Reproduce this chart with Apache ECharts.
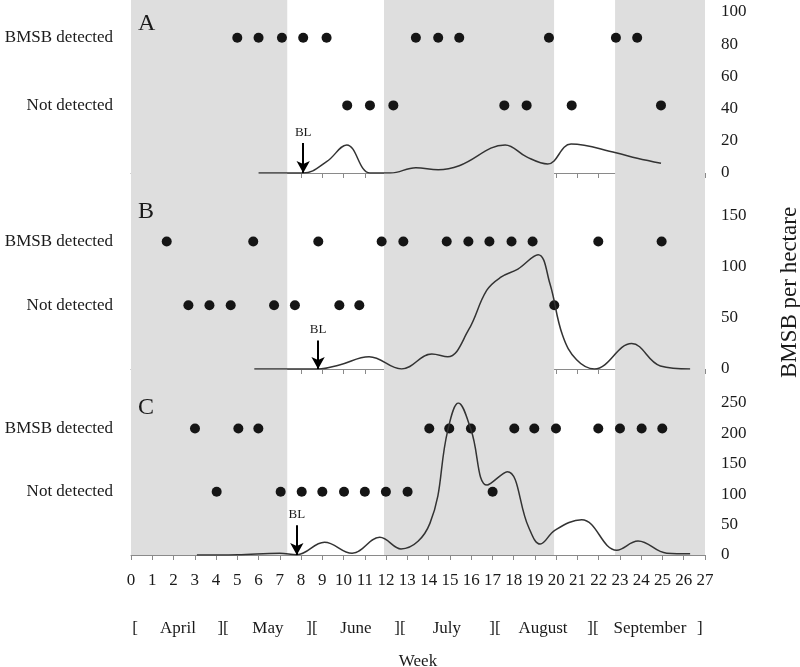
<!DOCTYPE html>
<html>
<head>
<meta charset="utf-8">
<style>html,body{margin:0;padding:0;background:#fff;}#chart{width:800px;height:667px;}</style>
<script src="https://cdn.jsdelivr.net/npm/echarts@6/dist/echarts.min.js"></script>
</head>
<body>
<div id="chart"></div>
<script>
// ---- data ----
const shadeRanges = [[0, 7.35], [11.9, 19.9], [22.77, 27]];

const detectedA = [5.0, 6.0, 7.1, 8.1, 9.2, 13.4, 14.45, 15.44, 19.66, 22.81, 23.81];
const notDetectedA = [10.17, 11.24, 12.34, 17.56, 18.61, 20.73, 24.93];
const curveWeeksA = [6.0, 8.1, 9.2, 10.15, 11.24, 12.2, 13.4, 14.45, 15.44, 17.6, 18.61, 19.6, 20.7, 22.81, 23.81, 24.93];
const curveValuesA = [0, 0, 7, 17.4, 0, 0, 3.3, 2, 4.5, 17.4, 10, 5.6, 18, 12.6, 9.1, 6];
const blA = [8.1, 18.6];

const detectedB = [1.68, 5.75, 8.81, 11.79, 12.81, 14.85, 15.87, 16.86, 17.9, 18.89, 21.98, 24.96];
const notDetectedB = [2.7, 3.69, 4.69, 6.73, 7.71, 9.8, 10.74, 19.91];
const curveWeeksB = [5.8, 8.8, 9.8, 11.2, 12.73, 14.15, 14.9, 15.87, 16.73, 17.4, 18.2, 19.15, 19.7, 20.3, 20.96, 21.8, 23.55, 24.9, 26.3];
const curveValuesB = [0, 0, 4, 12, 0, 14.7, 12, 38, 77, 90, 98, 112, 84, 33, 9, 0, 25, 3, 0];
const blB = [8.8, 28];

const detectedC = [3.01, 5.05, 5.99, 14.03, 14.97, 15.99, 18.03, 18.97, 19.99, 21.98, 23.0, 24.02, 24.99];
const notDetectedC = [4.03, 7.04, 8.03, 9.0, 10.02, 11.0, 11.99, 13.01, 17.01];
const curveWeeksC = [3.1, 5, 7, 7.8, 9.1, 10.4, 11.7, 12.7, 14.06, 14.9, 15.4, 16.0, 16.75, 17.7, 18.7, 19.25, 19.95, 21.2, 22.85, 23.85, 25.2, 26.3];
const curveValuesC = [0, 0.5, 3, 0.5, 21, 3, 29, 10, 52, 205, 250, 205, 115, 137, 46, 18, 41, 58, 8, 23, 3, 2];
const blC = [7.8, 49];

const rowLevelsA = [42, 84];
const rowLevelsB = [62.5, 125];
const rowLevelsC = [104, 208];
const rowNames = ['Not detected', 'BMSB detected'];

const yMax = [100, 150, 250];
const yInterval = [20, 50, 50];
const panelLetters = ['A', 'B', 'C'];

const monthLabels = ['[', 'April', '][', 'May', '][', 'June', '][', 'July', '][', 'August', '][', 'September', ']'];
const monthPos = [0.19, 2.21, 4.33, 6.44, 8.51, 10.58, 12.65, 14.86, 17.12, 19.38, 21.73, 24.41, 26.76];

// ---- chart ----
const FONT = '"Liberation Serif", "Times New Roman", serif';
const TXT = '#1a1a1a';
const AX = '#8a8a8a';

const grids = [
  {left: 131, right: 95, top: 12, height: 161, outerBoundsMode: 'none', containLabel: false},
  {left: 131, right: 95, top: 216, height: 153, outerBoundsMode: 'none', containLabel: false},
  {left: 131, right: 95, top: 403, height: 152, outerBoundsMode: 'none', containLabel: false},
  {left: 131, right: 95, top: 0, height: 555, outerBoundsMode: 'none', containLabel: false}
];

const xAxes = [0, 1, 2].map(i => ({
  type: 'value', gridIndex: i, min: 0, max: 27, interval: 1,
  axisLine: {show: true, lineStyle: {color: AX, width: 1}},
  axisTick: {show: true, length: 5, lineStyle: {color: AX}},
  axisLabel: {show: i === 2, fontFamily: FONT, fontSize: 17, color: TXT, margin: 17},
  splitLine: {show: false},
  name: i === 2 ? 'Week' : '', nameLocation: 'middle', nameGap: 98,
  nameTextStyle: {fontFamily: FONT, fontSize: 17, color: TXT}
}));
xAxes.push({type: 'value', gridIndex: 3, min: 0, max: 27, show: false});

const levels = [rowLevelsA, rowLevelsB, rowLevelsC];
const yAxes = [];
[0, 1, 2].forEach(i => {
  // right numeric axis
  yAxes.push({
    type: 'value', gridIndex: i, position: 'right', min: 0, max: yMax[i], interval: yInterval[i],
    axisLine: {show: true, lineStyle: {color: AX}},
    axisTick: {show: true, length: 5, lineStyle: {color: AX}},
    axisLabel: {fontFamily: FONT, fontSize: 17, color: TXT, margin: 16},
    splitLine: {show: false},
    name: i === 1 ? 'BMSB per hectare' : '', nameLocation: 'middle', nameRotate: 90, nameGap: 73,
    nameTextStyle: {fontFamily: FONT, fontSize: 23, color: TXT}
  });
  // left row label axis
  yAxes.push({
    type: 'value', gridIndex: i, position: 'left', min: 0, max: yMax[i], interval: levels[i][0],
    axisLine: {show: false}, axisTick: {show: false}, splitLine: {show: false},
    axisLabel: {fontFamily: FONT, fontSize: 17, color: TXT, margin: 18,
      formatter: function (v) {
        const k = levels[i].findIndex(l => Math.abs(l - v) < 1e-6);
        return k >= 0 ? rowNames[k] : '';
      }}
  });
});
yAxes.push({type: 'value', gridIndex: 3, min: 0, max: 1, show: false});

const detected = [detectedA, detectedB, detectedC];
const notDetected = [notDetectedA, notDetectedB, notDetectedC];
const curveW = [curveWeeksA, curveWeeksB, curveWeeksC];
const curveV = [curveValuesA, curveValuesB, curveValuesC];
const bls = [blA, blB, blC];

const series = [];
series.push({
  type: 'scatter', xAxisIndex: 3, yAxisIndex: 6, data: [], z: -10, silent: true,
  markArea: {silent: true, itemStyle: {color: '#dedede'},
    data: shadeRanges.map(r => [{xAxis: r[0]}, {xAxis: r[1]}])}
});
[0, 1, 2].forEach(i => {
  series.push({
    type: 'line', xAxisIndex: i, yAxisIndex: i * 2, smooth: 0.4, showSymbol: false,
    lineStyle: {color: '#333', width: 1.5},
    data: curveW[i].map((w, k) => [w, curveV[i][k]]),
    markLine: {
      silent: true, symbol: ['none', 'arrow'], symbolSize: [10, 12],
      lineStyle: {color: '#000', width: 2, type: 'solid'},
      label: {show: true, position: 'start', formatter: 'BL', fontFamily: FONT, fontSize: 13, color: TXT, distance: 4},
      data: [[{coord: [bls[i][0], bls[i][1]]}, {coord: [bls[i][0], 0]}]]
    }
  });
  series.push({
    type: 'scatter', xAxisIndex: i, yAxisIndex: i * 2, symbolSize: 10,
    itemStyle: {color: '#151515', opacity: 1},
    data: detected[i].map(w => [w, levels[i][1]])
  });
  series.push({
    type: 'scatter', xAxisIndex: i, yAxisIndex: i * 2, symbolSize: 10,
    itemStyle: {color: '#151515', opacity: 1},
    data: notDetected[i].map(w => [w, levels[i][0]])
  });
});

const titles = panelLetters.map((t, i) => ({
  text: t, left: 133, top: [7, 195, 391][i],
  textStyle: {fontFamily: FONT, fontSize: 24, fontWeight: 'normal', color: TXT}
}));

const chart = echarts.init(document.getElementById('chart'));
chart.setOption({
  animation: false,
  backgroundColor: '#fff',
  title: titles,
  grid: grids,
  xAxis: xAxes,
  yAxis: yAxes,
  series: series
});

const y0 = chart.convertToPixel({yAxisIndex: 4}, 0);
chart.setOption({
  graphic: monthLabels.map((m, k) => ({
    type: 'text',
    x: chart.convertToPixel({xAxisIndex: 2}, monthPos[k]),
    y: y0 + 74,
    style: {text: m, fontFamily: FONT, fontSize: 17, fill: TXT, textAlign: 'center', textVerticalAlign: 'middle'}
  }))
});
</script>
</body>
</html>
